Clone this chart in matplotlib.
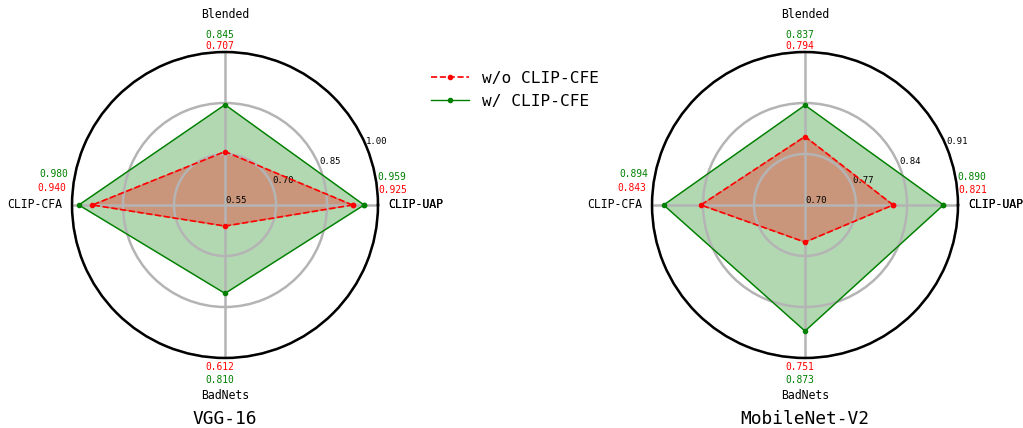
import numpy as np
import matplotlib
matplotlib.use("Agg")
import matplotlib.pyplot as plt
from matplotlib import font_manager

# fonts: the original looks like SimHei (half-width monospaced latin)
names = set(f.name for f in font_manager.fontManager.ttflist)
if "Noto Sans Mono CJK SC" in names:
    fam = "Noto Sans Mono CJK SC"
    k = 1.0
else:
    fam = "DejaVu Sans Mono"
    k = 0.83
plt.rcParams["font.family"] = [fam, "DejaVu Sans"]

categories = ["CLIP-UAP", "Blended", "CLIP-CFA", "BadNets"]
models = ["VGG-16", "MobileNet-V2"]
series_names = ["w/o CLIP-CFE", "w/ CLIP-CFE"]

vgg_wo = [0.925, 0.707, 0.940, 0.612]
vgg_w = [0.959, 0.845, 0.980, 0.810]
mob_wo = [0.821, 0.794, 0.843, 0.751]
mob_w = [0.890, 0.837, 0.894, 0.873]

vgg_ticks = [0.55, 0.70, 0.85, 1.00]
mob_ticks = [0.70, 0.77, 0.84, 0.91]

angles = np.linspace(0, 2 * np.pi, len(categories), endpoint=False)

fig = plt.figure(figsize=(10.23, 4.28), dpi=100)
ax1 = fig.add_axes([72 / 1023, 70 / 428, 306 / 1023, 306 / 428], projection="polar")
ax2 = fig.add_axes([652 / 1023, 70 / 428, 306 / 1023, 306 / 428], projection="polar")


def radar(ax, wo, w, ticks, title):
    a = np.concatenate([angles, angles[:1]])
    wo_c = wo + wo[:1]
    w_c = w + w[:1]
    ax.plot(a, w_c, color="green", lw=1.0, marker="o", ms=3, label=series_names[1], zorder=3)
    ax.fill(a, w_c, color="green", alpha=0.3, zorder=2)
    ax.plot(a, wo_c, color="red", lw=1.2, ls="--", marker="o", ms=3, label=series_names[0], zorder=4)
    ax.fill(a, wo_c, color="red", alpha=0.3, zorder=2)

    ax.set_axisbelow(False)
    ax.set_ylim(ticks[0], ticks[-1])
    ax.set_yticks(ticks)
    ax.set_yticklabels(["%.2f" % t for t in ticks], fontsize=7.8 * k)
    ax.set_rlabel_position(22.5)
    ax.set_xticks(angles)
    ax.set_xticklabels([])
    ax.grid(True, color="#b4b4b4", lw=1.8)
    ax.spines["polar"].set_linewidth(1.8)
    ax.spines["polar"].set_color("black")
    ax.spines["polar"].set_zorder(6)

    fs = 10 * k
    vs = 8.4 * k
    # category names
    ax.text(0.5, 1.124, categories[1], transform=ax.transAxes, ha="center", va="center", fontsize=fs)
    ax.text(0.5, -0.124, categories[3], transform=ax.transAxes, ha="center", va="center", fontsize=fs)
    for _ in range(2):
        ax.text(1.033, 0.5, categories[0], transform=ax.transAxes, ha="left", va="center", fontsize=fs)
    ax.text(-0.033, 0.5, categories[2], transform=ax.transAxes, ha="right", va="center", fontsize=fs)

    # value labels
    ax.text(0.483, 1.055, "%.3f" % w[1], transform=ax.transAxes, ha="center", va="center", fontsize=vs, color="green")
    ax.text(0.483, 1.018, "%.3f" % wo[1], transform=ax.transAxes, ha="center", va="center", fontsize=vs, color="red")
    ax.text(0.997, 0.59, "%.3f" % w[0], transform=ax.transAxes, ha="left", va="center", fontsize=vs, color="green")
    ax.text(1.0, 0.55, "%.3f" % wo[0], transform=ax.transAxes, ha="left", va="center", fontsize=vs, color="red")
    ax.text(-0.013, 0.60, "%.3f" % w[2], transform=ax.transAxes, ha="right", va="center", fontsize=vs, color="green")
    ax.text(-0.02, 0.557, "%.3f" % wo[2], transform=ax.transAxes, ha="right", va="center", fontsize=vs, color="red")
    ax.text(0.483, -0.03, "%.3f" % wo[3], transform=ax.transAxes, ha="center", va="center", fontsize=vs, color="red")
    ax.text(0.483, -0.072, "%.3f" % w[3], transform=ax.transAxes, ha="center", va="center", fontsize=vs, color="green")

    ax.text(0.5, -0.198, title, transform=ax.transAxes, ha="center", va="center", fontsize=15.5 * k)


radar(ax1, vgg_wo, vgg_w, vgg_ticks, models[0])
radar(ax2, mob_wo, mob_w, mob_ticks, models[1])

h, l = ax1.get_legend_handles_labels()
fig.legend(h[::-1], l[::-1], loc="center left", bbox_to_anchor=(416 / 1023, 1 - 90 / 428),
           frameon=False, fontsize=14 * k, handlelength=2.4, labelspacing=0.5)

fig.savefig("out.png", dpi=100)
